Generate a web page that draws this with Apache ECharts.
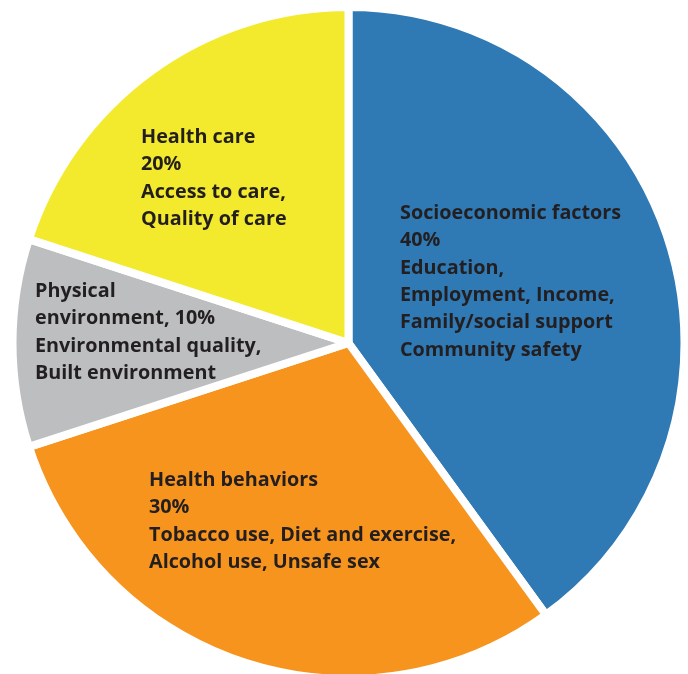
<!DOCTYPE html>
<html>
<head>
<meta charset="utf-8">
<script src="https://cdn.jsdelivr.net/npm/echarts@6/dist/echarts.min.js"></script>
<style>
  html, body { margin: 0; padding: 0; background: #ffffff; }
  #chart { width: 688px; height: 674px; }
</style>
</head>
<body>
<div id="chart"></div>
<script>
// Determinants of health: share of influence per factor
const categories = ['Socioeconomic factors', 'Health behaviors', 'Physical environment', 'Health care'];
const shares = [40, 30, 10, 20];
// Label text per slice; {p} is replaced by the slice's percentage
const labelTemplates = [
  'Socioeconomic factors\n{p}\nEducation,\nEmployment, Income,\nFamily/social support\nCommunity safety',
  'Health behaviors\n{p}\nTobacco use, Diet and exercise,\nAlcohol use, Unsafe sex',
  'Physical\nenvironment, {p}\nEnvironmental quality,\nBuilt environment',
  'Health care\n{p}\nAccess to care,\nQuality of care'
];
const colors = ['#2f79b5', '#f7941e', '#bcbec0', '#f3ea2d'];

// Top-left corner of each label block, in pixels
const labelAnchors = [[400, 199.5], [149, 466.5], [35, 277.5], [141, 123.5]];

const chart = echarts.init(document.getElementById('chart'), null, { renderer: 'canvas' });

chart.setOption({
  animation: false,
  series: [{
    type: 'pie',
    center: [348.5, 343],
    radius: [0, 336],
    startAngle: 90,
    clockwise: true,
    silent: true,
    itemStyle: { borderColor: '#ffffff', borderWidth: 8 },
    label: {
      show: true,
      position: 'inside',
      color: '#231f20',
      fontFamily: 'Open Sans',
      fontWeight: 'bold',
      fontSize: 19.8,
      lineHeight: 27.4,
      align: 'left',
      formatter: (p) => labelTemplates[p.dataIndex].replace('{p}', p.value + '%')
    },
    labelLine: { show: false },
    labelLayout: (p) => ({
      x: labelAnchors[p.dataIndex][0],
      y: labelAnchors[p.dataIndex][1],
      align: 'left',
      verticalAlign: 'top'
    }),
    data: categories.map((name, i) => ({
      name: name,
      value: shares[i],
      itemStyle: { color: colors[i] }
    }))
  }]
});
</script>
</body>
</html>
